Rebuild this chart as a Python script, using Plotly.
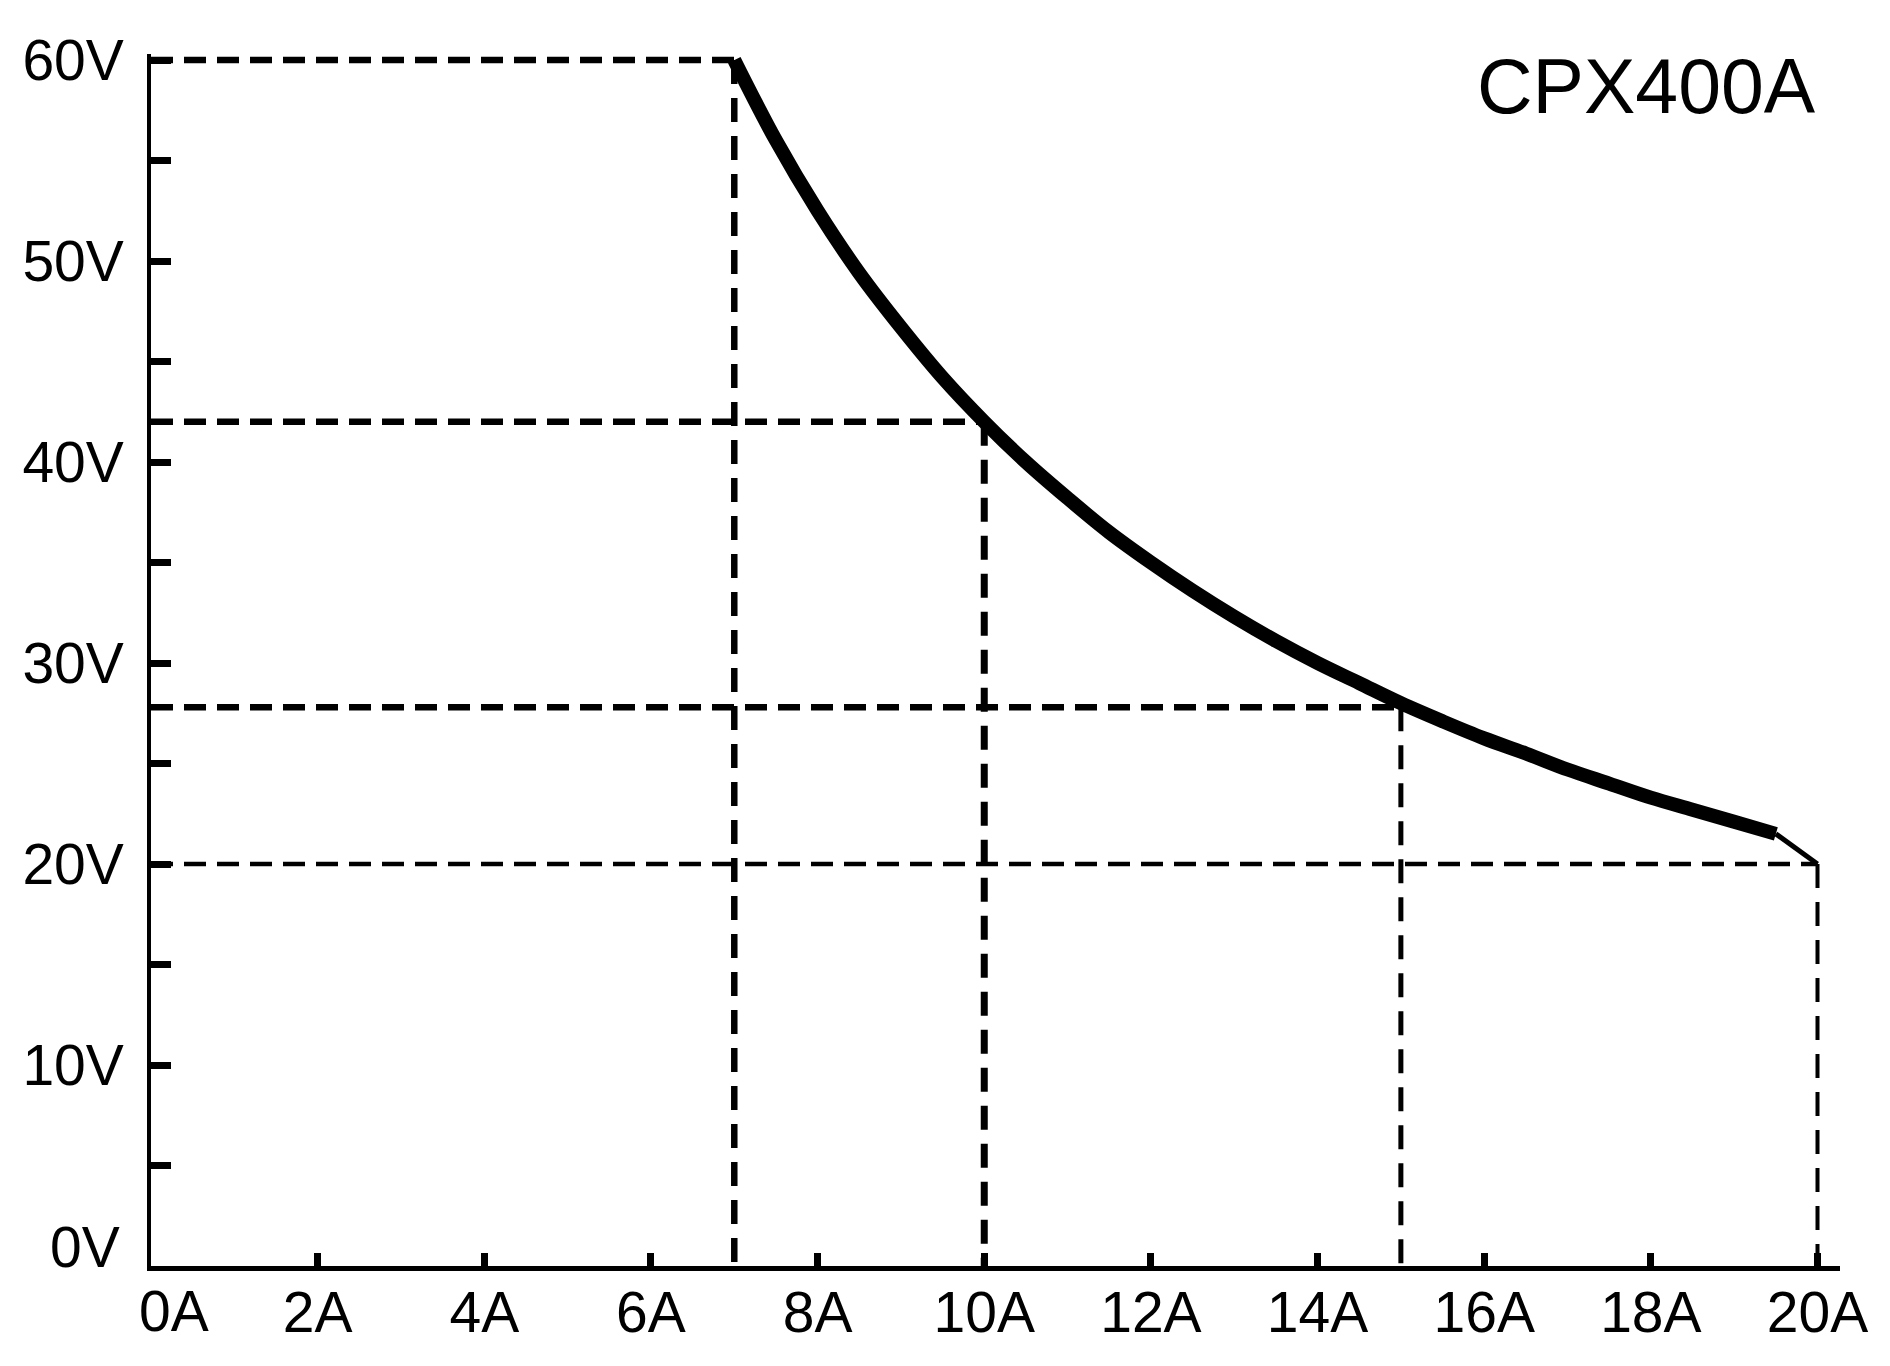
import plotly.graph_objects as go

# ---- data ----
curve_current = [7.0, 7.5, 8.0, 8.5, 9.0, 9.5, 10.0, 10.5, 11.0, 11.5, 12.0, 12.5, 13.0,
                 13.5, 14.0, 14.5, 15.0, 15.5, 16.0, 16.5, 17.0, 17.5, 18.0, 18.5, 19.0, 19.5]
curve_voltage = [60.0, 56.0, 52.5, 49.4, 46.7, 44.2, 42.0, 40.0, 38.2, 36.5, 35.0, 33.6, 32.3,
                 31.1, 30.0, 29.0, 28.0, 27.1, 26.25, 25.5, 24.7, 24.0, 23.3, 22.7, 22.1, 21.5]
tail_current = [19.5, 20.0]
tail_voltage = [21.5, 20.0]

ref_current = [7, 10, 15, 20]
ref_voltage = [60, 42, 27.8, 20]

x_tick_vals = [0, 2, 4, 6, 8, 10, 12, 14, 16, 18, 20]
x_tick_text = ["", "2A", "4A", "6A", "8A", "10A", "12A", "14A", "16A", "18A", "20A"]
y_tick_vals = [0, 5, 10, 15, 20, 25, 30, 35, 40, 45, 50, 55, 60]
y_tick_text = ["", "", "10V", "", "20V", "", "30V", "", "40V", "", "50V", "", "60V"]
title_text = "CPX400A"

FONT = "Liberation Sans, Arial, sans-serif"
LABEL_SIZE = 57

# styles for the guide lines (horizontal, vertical)
h_widths = [6.5, 6.5, 6.5, 4.5]
v_widths = [6.5, 7, 5, 4]

fig = go.Figure()

for i, (c, v) in enumerate(zip(ref_current, ref_voltage)):
    fig.add_trace(go.Scatter(
        x=[0, c], y=[v, v], mode="lines",
        line=dict(color="black", width=h_widths[i], dash="22px,11px"),
        hoverinfo="skip", showlegend=False))
    fig.add_trace(go.Scatter(
        x=[c, c], y=[v, 0], mode="lines",
        line=dict(color="black", width=v_widths[i], dash="24px,14px"),
        hoverinfo="skip", showlegend=False))

fig.add_trace(go.Scatter(
    x=curve_current, y=curve_voltage, mode="lines",
    line=dict(color="black", width=14, shape="spline", smoothing=1.0),
    hoverinfo="skip", showlegend=False))
fig.add_trace(go.Scatter(
    x=tail_current, y=tail_voltage, mode="lines",
    line=dict(color="black", width=5),
    hoverinfo="skip", showlegend=False))

# the page body adds an 8px margin, so the figure is sized/positioned to compensate
fig.update_layout(
    width=1874, height=1350,
    margin=dict(l=143, r=42, t=46, b=92),
    paper_bgcolor="white", plot_bgcolor="white",
    font=dict(family=FONT, size=LABEL_SIZE, color="black"),
    xaxis=dict(
        range=[0, 20.27], showgrid=False, zeroline=False,
        showline=True, linecolor="black", linewidth=4.5,
        ticks="inside", ticklen=13, tickwidth=7, tickcolor="black",
        tickmode="array", tickvals=x_tick_vals, ticktext=x_tick_text,
        tickfont=dict(family=FONT, size=LABEL_SIZE, color="black"),
        ticklabelstandoff=-7,
    ),
    yaxis=dict(
        range=[0, 60.3], showgrid=False, zeroline=False,
        showline=True, linecolor="black", linewidth=3.5,
        ticks="inside", ticklen=20, tickwidth=7, tickcolor="black",
        tickmode="array", tickvals=y_tick_vals, ticktext=y_tick_text,
        tickfont=dict(family=FONT, size=LABEL_SIZE, color="black"),
        ticklabelstandoff=12,
    ),
    annotations=[
        dict(x=0, y=0, xref="x", yref="y", text="0A", showarrow=False,
             xanchor="center", yanchor="middle", xshift=23, yshift=-45,
             font=dict(family=FONT, size=LABEL_SIZE, color="black")),
        dict(x=0, y=0, xref="x", yref="y", text="0V", showarrow=False,
             xanchor="right", yanchor="middle", xshift=-29, yshift=19,
             font=dict(family=FONT, size=LABEL_SIZE, color="black")),
        dict(x=20, y=58.7, xref="x", yref="y", text=title_text, showarrow=False,
             xanchor="right", yanchor="middle",
             font=dict(family=FONT, size=77, color="black")),
    ],
)

fig.write_html("out.html")
